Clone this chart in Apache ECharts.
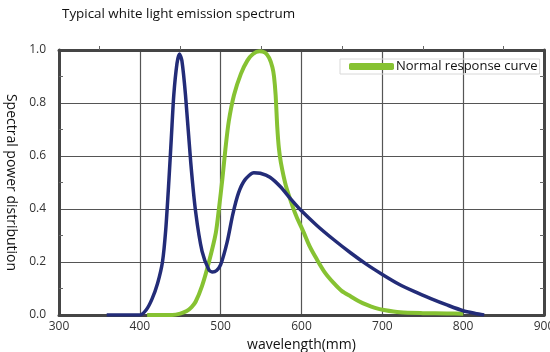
<!DOCTYPE html>
<html>
<head>
<meta charset="utf-8">
<script src="https://cdn.jsdelivr.net/npm/echarts@6/dist/echarts.min.js"></script>
<style>
  html, body { margin: 0; padding: 0; background: #fff; }
  #chart { width: 550px; height: 352px; }
</style>
</head>
<body>
<div id="chart"></div>
<script>
// white LED emission spectrum (blue)
var blueNm = [359, 400, 408, 415, 422, 428, 432, 436, 439, 442, 446, 449, 452, 456.5, 463, 469, 477, 485.5, 490, 495, 500, 508, 515, 522, 530, 541, 549, 561, 574, 586, 599, 619, 640, 661, 681, 700, 720, 740, 760, 780, 800, 815, 826]
var blueVal = [0, 0, 0.02, 0.06, 0.12, 0.2, 0.32, 0.51, 0.67, 0.83, 0.95, 0.985, 0.96, 0.83, 0.575, 0.39, 0.24, 0.17, 0.162, 0.168, 0.19, 0.275, 0.38, 0.46, 0.51, 0.537, 0.535, 0.52, 0.484, 0.44, 0.396, 0.338, 0.284, 0.234, 0.19, 0.153, 0.117, 0.088, 0.062, 0.038, 0.016, 0.006, 0]

// normal eye response curve (green)
var greenNm = [409, 440, 450, 458, 464, 469, 477, 485.5, 494, 498, 502, 506, 510, 516.5, 525, 533, 540, 548, 555, 560, 564, 566, 568, 570, 572, 574.5, 580.5, 589, 594, 603, 610, 619, 629, 640, 650, 661, 671, 681, 691, 702, 722, 750, 780, 800]
var greenVal = [0, 0, 0.005, 0.015, 0.03, 0.05, 0.11, 0.2, 0.31, 0.405, 0.51, 0.63, 0.73, 0.83, 0.91, 0.96, 0.985, 0.995, 0.99, 0.97, 0.935, 0.9, 0.83, 0.71, 0.63, 0.575, 0.49, 0.41, 0.37, 0.31, 0.26, 0.21, 0.16, 0.12, 0.09, 0.07, 0.052, 0.038, 0.027, 0.019, 0.01, 0.007, 0.006, 0.005]

var xTicks = { min: 300, max: 900, step: 100 }
var yTicks = { min: 0, max: 1, step: 0.2 }

function pairs (xs, ys) {
  return xs.map(function (x, i) { return [x, ys[i]] })
}

var font = 'Open Sans'
var axisColor = '#454545'

var chart = echarts.init(document.getElementById('chart'))
chart.setOption({
  backgroundColor: '#fff',
  animation: false,
  title: {
    text: 'Typical white light emission spectrum',
    left: 57,
    top: 3,
    textStyle: { fontFamily: font, fontSize: 13.4, fontWeight: 'normal', color: '#111' }
  },
  legend: {
    data: ['Normal response curve'],
    left: 340,
    top: 59,
    icon: 'roundRect',
    itemWidth: 45,
    itemHeight: 7,
    itemGap: 2,
    padding: [1, 2, 1, 9],
    borderColor: '#d8d8d8',
    borderWidth: 1,
    textStyle: { fontFamily: font, fontSize: 13, color: '#111', padding: [0, 0, 0, -3] }
  },
  grid: { left: 59, right: 6, top: 50, bottom: 37, outerBoundsMode: 'none' },
  xAxis: [{
    type: 'value',
    min: xTicks.min,
    max: xTicks.max,
    interval: xTicks.step,
    name: 'wavelength(mm)',
    nameLocation: 'middle',
    nameGap: 23,
    nameTextStyle: { fontFamily: font, fontSize: 14, color: '#111' },
    axisLine: { onZero: false, lineStyle: { color: axisColor, width: 3 } },
    axisTick: { show: false },
    axisLabel: { fontFamily: font, fontSize: 12, color: '#333', margin: 6 },
    splitLine: { lineStyle: { color: '#555', width: 1.2 } }
  }, {
    type: 'value',
    position: 'top',
    min: xTicks.min,
    max: xTicks.max,
    interval: xTicks.step,
    axisLine: { show: true, onZero: false, lineStyle: { color: axisColor, width: 3 } },
    axisTick: { show: false },
    minorTick: { show: true, splitNumber: 2, length: 4, lineStyle: { color: '#666' } },
    axisLabel: { show: false },
    splitLine: { show: false }
  }],
  yAxis: [{
    type: 'value',
    min: yTicks.min,
    max: yTicks.max,
    interval: yTicks.step,
    name: 'Spectral power distribution',
    nameLocation: 'middle',
    nameGap: 41,
    nameRotate: -90,
    nameTextStyle: { fontFamily: font, fontSize: 14, color: '#111' },
    axisLine: { show: true, onZero: false, lineStyle: { color: axisColor, width: 3 } },
    axisTick: { show: false },
    minorTick: { show: true, splitNumber: 2, length: -4, lineStyle: { color: '#666' } },
    axisLabel: { fontFamily: font, fontSize: 12, color: '#333', margin: 13, formatter: function (v) { return v.toFixed(1) } },
    splitLine: { lineStyle: { color: '#555', width: 1.2 } }
  }, {
    type: 'value',
    position: 'right',
    min: yTicks.min,
    max: yTicks.max,
    interval: yTicks.step,
    axisLine: { show: true, onZero: false, lineStyle: { color: axisColor, width: 3 } },
    axisTick: { show: false },
    minorTick: { show: true, splitNumber: 2, length: -4, lineStyle: { color: '#666' } },
    axisLabel: { show: false },
    splitLine: { show: false }
  }],
  series: [
    {
      name: 'Spectrum',
      type: 'line',
      data: pairs(blueNm, blueVal),
      smooth: 0.25,
      showSymbol: false,
      lineStyle: { color: '#232c78', width: 3.5 },
      itemStyle: { color: '#232c78' },
      z: 3
    },
    {
      name: 'Normal response curve',
      type: 'line',
      data: pairs(greenNm, greenVal),
      smooth: 0.25,
      showSymbol: false,
      lineStyle: { color: '#86c232', width: 4 },
      itemStyle: { color: '#86c232' },
      z: 2
    }
  ]
})
</script>
</body>
</html>
